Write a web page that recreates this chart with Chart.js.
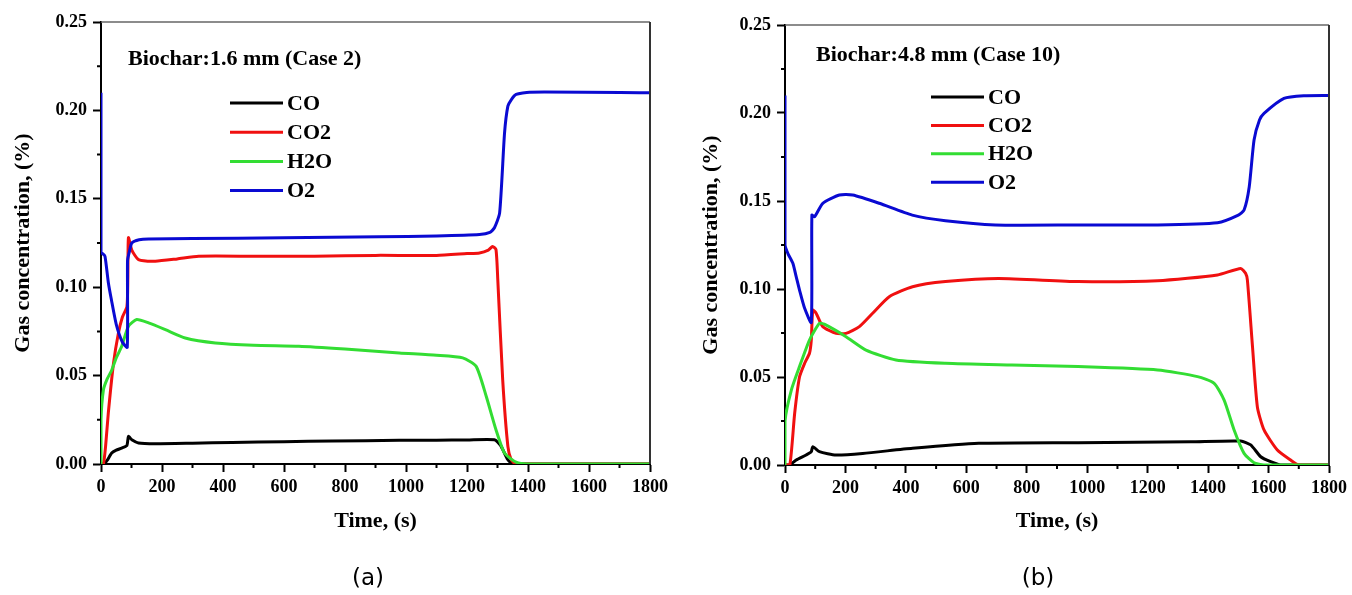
<!DOCTYPE html>
<html>
<head>
<meta charset="utf-8">
<script src="https://cdn.jsdelivr.net/npm/chart.js@4/dist/chart.umd.min.js"></script>
<style>
  html, body { margin: 0; padding: 0; background: #fff; }
  #wrap { position: relative; width: 1352px; height: 595px; overflow: hidden; }
  canvas { position: absolute; top: 0; }
</style>
</head>
<body>
<div id="wrap">
  <canvas id="cA" width="676" height="595" style="left:0px"></canvas>
  <canvas id="cB" width="676" height="595" style="left:676px"></canvas>
</div>
<script>
// ---------- data ----------
const seriesLabels = ['CO', 'CO2', 'H2O', 'O2'];
const xTickValues = [0, 200, 400, 600, 800, 1000, 1200, 1400, 1600, 1800];
const yTickValues = [0.00, 0.05, 0.10, 0.15, 0.20, 0.25];

// (a) Biochar 1.6 mm (Case 2)
const coTimeA  = [0, 10, 20, 35, 50, 68, 85, 90, 101, 123, 178, 300, 430, 600, 758, 978, 1100, 1200, 1290, 1310, 1334, 1350, 1400, 1800];
const coValA   = [0, 0, 0.002, 0.0062, 0.0078, 0.009, 0.0105, 0.0156, 0.0137, 0.0119, 0.0115, 0.0118, 0.0122, 0.0126, 0.013, 0.0134, 0.0135, 0.0136, 0.0137, 0.0105, 0.0024, 0, 0, 0];
const co2TimeA = [0, 8, 15, 24, 41, 57, 70, 85, 88, 90, 101, 123, 178, 250, 320, 500, 700, 900, 1100, 1200, 1241, 1270, 1284, 1295, 1301, 1317, 1334, 1345, 1360, 1800];
const co2ValA  = [0, 0, 0.01, 0.0289, 0.057, 0.074, 0.083, 0.089, 0.105, 0.128, 0.121, 0.1156, 0.1147, 0.116, 0.1175, 0.1175, 0.1175, 0.118, 0.118, 0.119, 0.1194, 0.121, 0.123, 0.1213, 0.104, 0.0477, 0.01, 0.0024, 0, 0];
const h2oTimeA = [0, 0, 8, 20, 35, 50, 68, 90, 117, 156, 211, 276, 375, 500, 649, 800, 978, 1100, 1186, 1230, 1263, 1295, 1323, 1361, 1400, 1800];
const h2oValA  = [0, 0.025, 0.042, 0.048, 0.053, 0.06, 0.0666, 0.0779, 0.0817, 0.0798, 0.076, 0.0713, 0.0685, 0.0672, 0.0666, 0.065, 0.0628, 0.0615, 0.06, 0.0552, 0.0383, 0.0194, 0.0062, 0.001, 0, 0];
const o2TimeA  = [0, 0, 5, 13, 24, 34, 50, 70, 86, 87, 93, 101, 125, 156, 300, 600, 912, 1100, 1241, 1275, 1290, 1307, 1323, 1334, 1345, 1361, 1405, 1800];
const o2ValA   = [0.21, 0.1196, 0.119, 0.1175, 0.1027, 0.093, 0.079, 0.069, 0.066, 0.115, 0.12, 0.125, 0.1268, 0.1273, 0.1275, 0.128, 0.1285, 0.129, 0.1298, 0.131, 0.1336, 0.142, 0.187, 0.2024, 0.206, 0.209, 0.2103, 0.21];

// (b) Biochar 4.8 mm (Case 10)
const coTimeB  = [0, 15, 37, 70, 87, 92, 114, 169, 257, 422, 641, 970, 1343, 1508, 1541, 1574, 1607, 1640, 1800];
const coValB   = [0, 0, 0.0028, 0.0057, 0.0076, 0.0104, 0.0076, 0.0057, 0.0066, 0.0095, 0.0123, 0.0127, 0.0132, 0.0136, 0.0114, 0.0047, 0.0019, 0, 0];
const co2TimeB = [0, 16, 32, 48, 65, 81, 87, 92, 103, 125, 169, 202, 246, 290, 345, 422, 531, 707, 970, 1233, 1431, 1508, 1524, 1530, 1547, 1563, 1585, 1629, 1673, 1700, 1800];
const co2ValB  = [0, 0, 0.0294, 0.05, 0.0578, 0.0635, 0.071, 0.088, 0.0862, 0.0786, 0.0748, 0.0748, 0.0786, 0.0862, 0.0956, 0.1013, 0.1042, 0.106, 0.1042, 0.1047, 0.108, 0.1117, 0.1089, 0.105, 0.067, 0.033, 0.0199, 0.0085, 0.0028, 0, 0];
const h2oTimeB = [0, 0, 21, 48, 81, 114, 130, 202, 268, 367, 531, 751, 970, 1233, 1365, 1420, 1453, 1486, 1519, 1552, 1585, 1800];
const h2oValB  = [0, 0.025, 0.0426, 0.0559, 0.071, 0.0805, 0.08, 0.0729, 0.0653, 0.0597, 0.0578, 0.0568, 0.0559, 0.054, 0.0502, 0.0464, 0.0369, 0.0199, 0.0066, 0.0013, 0, 0];
const o2TimeB  = [0, 0, 10, 26, 37, 48, 65, 87, 89, 98, 125, 180, 224, 312, 421, 531, 696, 970, 1233, 1431, 1500, 1519, 1536, 1552, 1570, 1585, 1651, 1717, 1800];
const o2ValB   = [0.21, 0.125, 0.12, 0.1146, 0.107, 0.0994, 0.089, 0.081, 0.142, 0.141, 0.1487, 0.1534, 0.1534, 0.1487, 0.142, 0.1388, 0.1364, 0.1364, 0.1364, 0.1377, 0.142, 0.1449, 0.158, 0.1847, 0.196, 0.1998, 0.2083, 0.2098, 0.21];

// ---------- styling ----------
const colors = ['#000000', '#f01010', '#33dd33', '#0a0ad2'];
const SERIF = "'Liberation Serif', 'Times New Roman', serif";

function pts(t, v) { return t.map((x, i) => ({ x: x, y: v[i] })); }

function makeDatasets(sets) {
  return sets.map((s, i) => ({
    label: seriesLabels[i],
    data: pts(s[0], s[1]),
    borderColor: colors[i],
    backgroundColor: colors[i],
    borderWidth: 3,
    pointRadius: 0,
    tension: 0.2,
    order: 4 - i,
    fill: false
  }));
}

const decorPlugin = {
  id: 'decor',
  afterDraw(chart, args, o) {
    const ctx = chart.ctx;
    const a = chart.chartArea;
    const xs = chart.scales.x, ys = chart.scales.y;
    ctx.save();
    // top & right frame
    ctx.strokeStyle = '#666';
    ctx.lineWidth = 1.5;
    ctx.beginPath();
    ctx.moveTo(a.left, a.top); ctx.lineTo(a.right, a.top);
    ctx.stroke();
    ctx.strokeStyle = '#333';
    ctx.lineWidth = 2;
    ctx.beginPath();
    ctx.moveTo(a.right, a.top); ctx.lineTo(a.right, a.bottom);
    ctx.stroke();
    // minor ticks
    ctx.strokeStyle = '#000';
    ctx.lineWidth = 2;
    ctx.beginPath();
    for (let v = 100; v < 1800; v += 200) {
      const px = xs.getPixelForValue(v);
      ctx.moveTo(px, a.bottom); ctx.lineTo(px, a.bottom + 4);
    }
    for (let v = 0.025; v < 0.25; v += 0.05) {
      const py = ys.getPixelForValue(v);
      ctx.moveTo(a.left, py); ctx.lineTo(a.left - 4, py);
    }
    ctx.stroke();
    // annotation
    ctx.fillStyle = '#000';
    ctx.font = 'bold 22px ' + SERIF;
    ctx.textBaseline = 'alphabetic';
    ctx.textAlign = 'left';
    ctx.fillText(o.note, o.noteX, o.noteY);
    // legend
    chart.data.datasets.forEach((d, i) => {
      const y = o.legY + i * o.legDy;
      ctx.strokeStyle = d.borderColor;
      ctx.lineWidth = 3;
      ctx.beginPath();
      ctx.moveTo(o.legX, y); ctx.lineTo(o.legX + 53, y);
      ctx.stroke();
      ctx.fillStyle = '#000';
      ctx.font = 'bold 22px ' + SERIF;
      ctx.textBaseline = 'middle';
      ctx.fillText(d.label, o.legX + 57, y + 1);
    });
    // caption
    ctx.font = '23px "DejaVu Sans", sans-serif';
    ctx.textAlign = 'center';
    ctx.textBaseline = 'middle';
    ctx.fillStyle = '#000';
    ctx.fillText(o.caption, o.capX, o.capY);
    ctx.restore();
  }
};

function makeChart(id, sets, L) {
  return new Chart(document.getElementById(id), {
    type: 'line',
    data: { datasets: makeDatasets(sets) },
    plugins: [decorPlugin],
    options: {
      responsive: false,
      animation: false,
      events: [],
      layout: { padding: { left: 0, top: L.top, right: L.right, bottom: 0 } },
      plugins: {
        legend: { display: false },
        title: { display: false },
        tooltip: { enabled: false },
        decor: L.decor
      },
      scales: {
        x: {
          type: 'linear',
          min: 0, max: 1800,
          afterBuildTicks: s => { s.ticks = xTickValues.map(v => ({ value: v })); },
          afterFit: s => { s.height = L.xHeight; },
          ticks: {
            color: '#000', padding: 5, maxRotation: 0, autoSkip: false,
            callback: v => String(v),
            font: { family: SERIF, size: 18, weight: 'bold' }
          },
          grid: { display: true, drawOnChartArea: false, drawTicks: true, tickLength: 8, tickWidth: 2, tickColor: '#000' },
          border: { display: true, color: '#000', width: 2 },
          title: {
            display: true, text: 'Time, (s)', color: '#000',
            font: { family: SERIF, size: 22, weight: 'bold' },
            padding: { top: 0, bottom: 60 }
          }
        },
        y: {
          type: 'linear',
          min: 0, max: 0.25,
          afterBuildTicks: s => { s.ticks = yTickValues.map(v => ({ value: v })); },
          afterFit: s => { s.width = L.yWidth; },
          ticks: {
            color: '#000', padding: 6,
            callback: v => Number(v).toFixed(2),
            font: { family: SERIF, size: 18, weight: 'bold' }
          },
          grid: { display: true, drawOnChartArea: false, drawTicks: true, tickLength: 8, tickWidth: 2, tickColor: '#000' },
          border: { display: true, color: '#000', width: 2 },
          title: {
            display: true, text: 'Gas concentration, (%)', color: '#000',
            font: { family: SERIF, size: 22, weight: 'bold' },
            padding: { top: L.yTitlePad, bottom: 0 }
          }
        }
      }
    }
  });
}

makeChart('cA',
  [[coTimeA, coValA], [co2TimeA, co2ValA], [h2oTimeA, h2oValA], [o2TimeA, o2ValA]],
  { top: 22, right: 26, xHeight: 131, yWidth: 101, yTitlePad: 10,
    decor: { note: 'Biochar:1.6 mm (Case 2)', noteX: 128, noteY: 65,
             legX: 230, legY: 103, legDy: 29.2,
             caption: '(a)', capX: 368, capY: 579 } });

makeChart('cB',
  [[coTimeB, coValB], [co2TimeB, co2ValB], [h2oTimeB, h2oValB], [o2TimeB, o2ValB]],
  { top: 25, right: 20, xHeight: 130, yWidth: 109, yTitlePad: 22,
    decor: { note: 'Biochar:4.8 mm (Case 10)', noteX: 140, noteY: 61,
             legX: 255, legY: 97, legDy: 28.4,
             caption: '(b)', capX: 362, capY: 579 } });
</script>
</body>
</html>
